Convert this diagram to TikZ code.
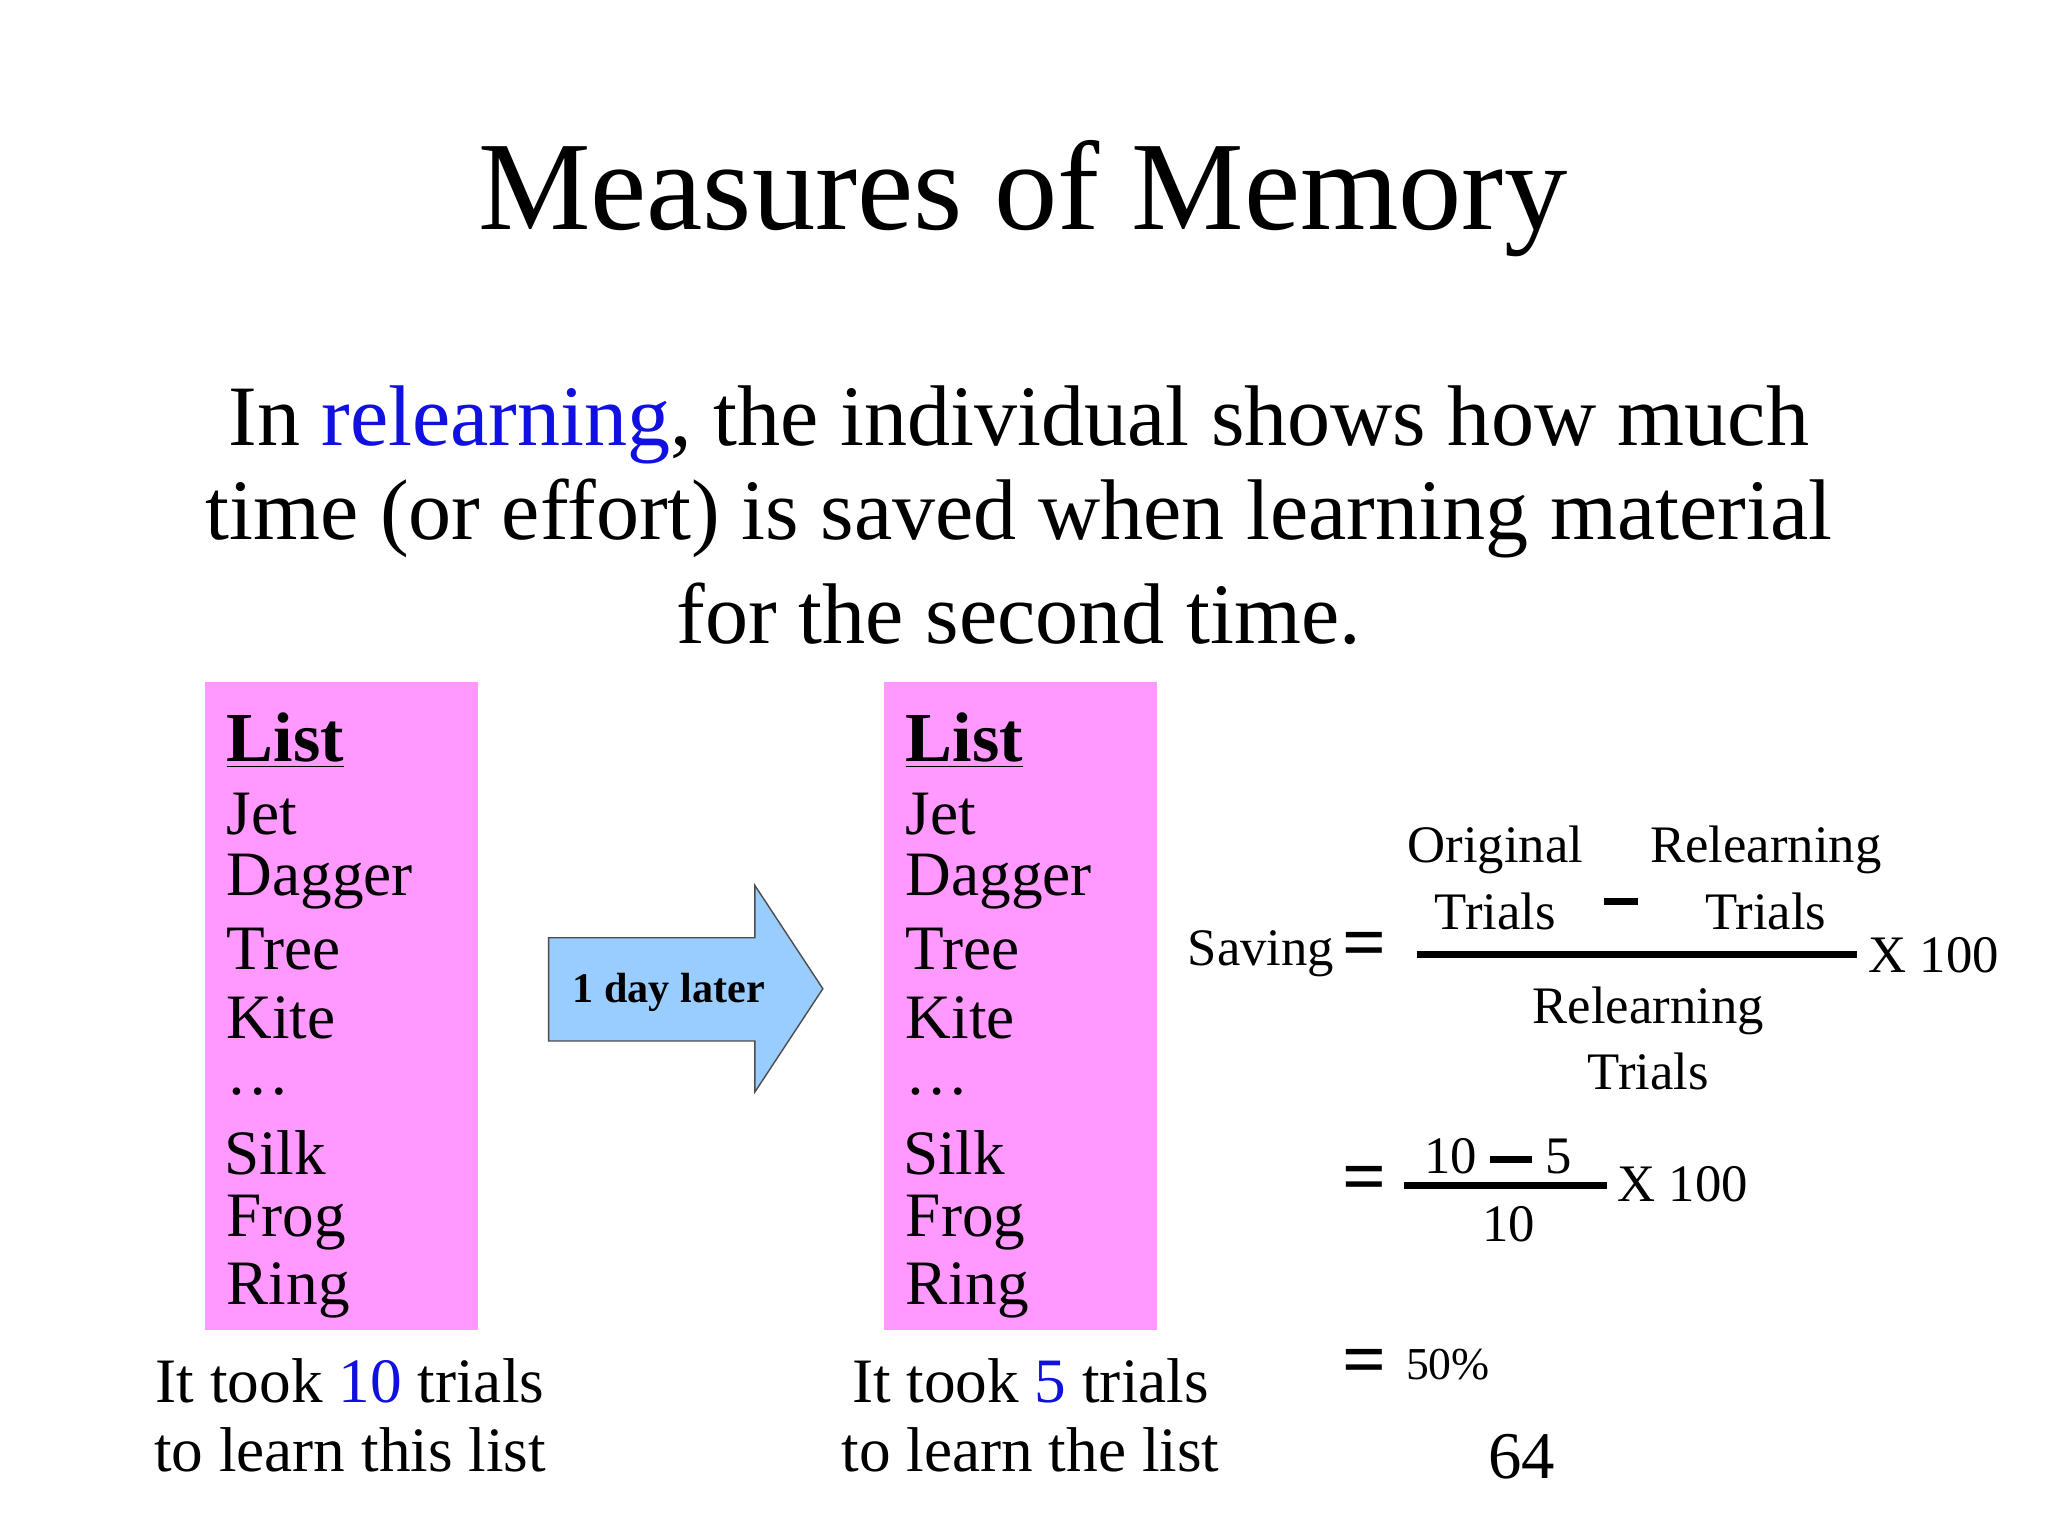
\documentclass[tikz,border=0pt]{standalone}
\usepackage{fontspec}
\setmainfont{Liberation Serif}
\definecolor{pinkbox}{HTML}{FF99FF}
\definecolor{arrowblue}{HTML}{99CCFF}
\definecolor{linkblue}{HTML}{1010E0}
\begin{document}
\begin{tikzpicture}[x=0.01306cm,y=-0.01306cm,
  item/.style={anchor=west,inner sep=0pt,font=\fontsize{18}{20}\selectfont},
  body/.style={inner sep=0pt,font=\fontsize{24.5}{30}\selectfont},
  captext/.style={inner sep=0pt,font=\fontsize{18}{21}\selectfont},
  fm/.style={inner sep=0pt,align=center,font=\fontsize{15}{17}\selectfont},
  eq/.style={inner sep=0pt,font=\fontsize{22}{22}\selectfont\bfseries}]
\useasboundingbox (0,0) rectangle (1568,1176);
\node[inner sep=0pt,font=\fontsize{36}{42}\selectfont] (title) at (783,152) {Measures of Memory};
\node[body] (l1) at (780,325) {In \textcolor{linkblue}{relearning}, the individual shows how much};
\node[body] (l2) at (780,397) {time (or effort) is saved when learning material};
\node[body] (l3) at (780,470) {for the second time.};
\foreach \n/\x in {A/157,B/677}{
  \fill[pinkbox] (\x,522) rectangle ++(209,496);
  \node[item,font=\fontsize{20}{24}\selectfont\bfseries] (\n0) at (\x+16,567) {\underline{List}};
  \node[item] (\n1) at (\x+16,623) {Jet};
  \node[item] (\n2) at (\x+16,675) {Dagger};
  \node[item] (\n3) at (\x+16,727) {Tree};
  \node[item] (\n4) at (\x+16,779) {Kite};
  \node[item] (\n5) at (\x+16,836) {\dots};
  \node[item] (\n6) at (\x+14,883) {Silk};
  \node[item] (\n7) at (\x+16,936) {Frog};
  \node[item] (\n8) at (\x+16,988) {Ring};
}
\draw[draw=black!70,fill=arrowblue] (420,718) -- (578,718) -- (578,678) -- (630,757) -- (578,836) -- (578,797) -- (420,797) -- cycle;
\node[inner sep=0pt,font=\fontsize{12}{14}\selectfont\bfseries] (arr) at (512,760) {1 day later};
\node[captext] (c1a) at (268,1057) {It took \textcolor{linkblue}{10} trials};
\node[captext] (c1b) at (268,1110) {to learn this list};
\node[captext] (c2a) at (789,1057) {It took \textcolor{linkblue}{5} trials};
\node[captext] (c2b) at (789,1110) {to learn the list};
\node[fm,anchor=east] (sav) at (1022,730) {Saving};
\node[eq] (e1) at (1045,728) {=};
\node[fm] (ot) at (1145,672) {Original\\[2pt]Trials};
\draw[line width=2pt] (1228,690) -- (1254,690);
\node[fm] (rt) at (1352,672) {Relearning\\[2pt]Trials};
\draw[line width=2pt] (1085,731) -- (1422,731);
\node[fm] (den) at (1262,795) {Relearning\\[2pt]Trials};
\node[fm,anchor=west] (x1) at (1430,731) {X 100};
\node[eq] (e2) at (1045,907) {=};
\draw[line width=2pt] (1075,908) -- (1230,908);
\node[fm] (n2) at (1147,885) {10 \rule[3pt]{12pt}{2pt} 5};
\node[fm] (d2) at (1155,937) {10};
\node[fm,anchor=west] (x2) at (1238,907) {X 100};
\node[eq] (e3) at (1045,1047) {=};
\node[fm,anchor=west,font=\fontsize{13}{15}\selectfont] (res) at (1076,1045) {50\%};
\node[inner sep=0pt,font=\fontsize{19}{22}\selectfont] (pg) at (1165,1115) {64};
\end{tikzpicture}
\end{document}
